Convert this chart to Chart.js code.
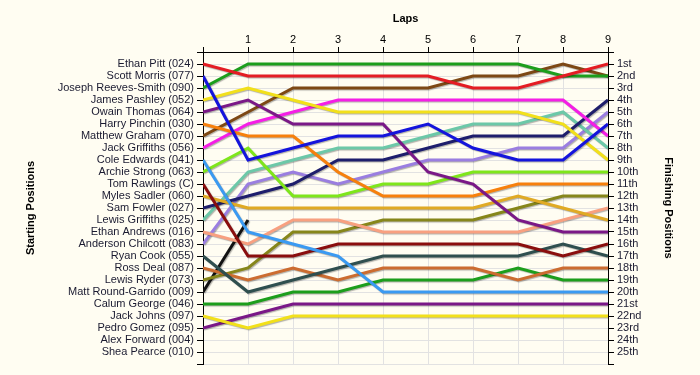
<!DOCTYPE html>
<html>
<head>
<meta charset="utf-8">
<script src="https://cdn.jsdelivr.net/npm/chart.js@4/dist/chart.umd.min.js"></script>
<style>
  html, body { margin: 0; padding: 0; background: #fffdf2; }
  #wrap { width: 700px; height: 375px; }
</style>
</head>
<body>
<div id="wrap"><canvas id="lapChart" width="700" height="375"></canvas></div>
<script>
const laps = [0, 1, 2, 3, 4, 5, 6, 7, 8, 9];

const drivers = [
  'Ethan Pitt (024)', 'Scott Morris (077)', 'Joseph Reeves-Smith (090)', 'James Pashley (052)',
  'Owain Thomas (064)', 'Harry Pinchin (030)', 'Matthew Graham (070)', 'Jack Griffiths (056)',
  'Cole Edwards (041)', 'Archie Strong (063)', 'Tom Rawlings (C)', 'Myles Sadler (060)',
  'Sam Fowler (027)', 'Lewis Griffiths (025)', 'Ethan Andrews (016)', 'Anderson Chilcott (083)',
  'Ryan Cook (055)', 'Ross Deal (087)', 'Lewis Ryder (073)', 'Matt Round-Garrido (009)',
  'Calum George (046)', 'Jack Johns (097)', 'Pedro Gomez (095)', 'Alex Forward (004)',
  'Shea Pearce (010)'
];

const finishLabels = [
  '1st', '2nd', '3rd', '4th', '5th', '6th', '7th', '8th', '9th', '10th', '11th', '12th', '13th',
  '14th', '15th', '16th', '17th', '18th', '19th', '20th', '21st', '22nd', '23rd', '24th', '25th'
];

// race position of each driver after each lap (lap 0 = grid)
const positions = [
  [1, 2, 2, 2, 2, 2, 3, 3, 2, 1],
  [2, 9, 8, 7, 7, 6, 8, 9, 9, 6],
  [3, 1, 1, 1, 1, 1, 1, 1, 2, 2],
  [4, 3, 4, 5, 5, 5, 5, 5, 6, 9],
  [5, 4, 6, 6, 6, 10, 11, 14, 15, 15],
  [6, 7, 7, 10, 12, 12, 12, 11, 11, 11],
  [7, 5, 3, 3, 3, 3, 2, 2, 1, 2],
  [8, 6, 5, 4, 4, 4, 4, 4, 4, 7],
  [9, 15, 16, 17, 20, 20, 20, 20, 20, 20],
  [10, 8, 12, 12, 11, 11, 10, 10, 10, 10],
  [11, 17, 17, 16, 16, 16, 16, 16, 17, 16],
  [12, 13, 13, 13, 13, 13, 13, 12, 13, 14],
  [13, 12, 11, 9, 9, 8, 7, 7, 7, 4],
  [14, 10, 9, 8, 8, 7, 6, 6, 5, 8],
  [15, 16, 14, 14, 15, 15, 15, 15, 14, 13],
  [16, 11, 10, 11, 10, 9, 9, 8, 8, 5],
  [17, 20, 19, 18, 17, 17, 17, 17, 16, 17],
  [18, 19, 18, 19, 18, 18, 18, 19, 18, 18],
  [19, 18, 15, 15, 14, 14, 14, 13, 12, 12],
  [20, 14],
  [21, 21, 20, 20, 19, 19, 19, 18, 19, 19],
  [22, 23, 22, 22, 22, 22, 22, 22, 22, 22],
  [23, 22, 21, 21, 21, 21, 21, 21, 21, 21],
  [],
  []
];

const lineColors = [
  '#e41c23', '#1414dc', '#1c9e1c', '#f2e01a', '#7a1887', '#f7800c', '#7d4814', '#f51ee6',
  '#3a9af2', '#7ee61a', '#8a0e0e', '#e0aa24', '#1e1e6c', '#6cc8a8', '#f8a080', '#9a7ee0',
  '#2f4f4f', '#cc6c30', '#86861a', '#111111', '#1c9e1c', '#f2e01a', '#7a1887', '#999999',
  '#999999'
];

const datasets = drivers.map((name, i) => ({
  label: name,
  data: positions[i].map((p, lap) => ({ x: laps[lap], y: p })),
  borderColor: lineColors[i],
  borderWidth: 3,
  pointRadius: 0,
  fill: false,
  tension: 0
}));

// slight drop shadow under the lines
const lineShadow = {
  id: 'lineShadow',
  beforeDatasetDraw(chart) {
    const ctx = chart.ctx;
    ctx.save();
    ctx.shadowColor = 'rgba(0,0,0,0.3)';
    ctx.shadowOffsetX = 1;
    ctx.shadowOffsetY = 1;
    ctx.shadowBlur = 1;
  },
  afterDatasetDraw(chart) {
    chart.ctx.restore();
  }
};

const tickFont = { family: 'Liberation Sans', size: 11 };
const titleFont = { family: 'Liberation Sans', size: 11, weight: 'bold' };

new Chart(document.getElementById('lapChart'), {
  type: 'line',
  data: { datasets: datasets },
  plugins: [lineShadow],
  options: {
    responsive: false,
    animation: false,
    devicePixelRatio: 1,
    layout: { padding: { top: 0, left: 0, right: 0, bottom: 11 } },
    plugins: { legend: { display: false }, tooltip: { enabled: false } },
    scales: {
      x: {
        type: 'linear',
        position: 'top',
        min: 0,
        max: 9,
        ticks: {
          stepSize: 1,
          color: '#000',
          font: tickFont,
          padding: 0,
          callback: (v) => (v === 0 ? '' : v)
        },
        grid: { color: '#e2e2e2', tickColor: '#000', tickLength: 5 },
        border: { color: '#000', width: 1 },
        title: { display: true, text: 'Laps', color: '#000', font: titleFont, padding: { top: 12, bottom: 0 } },
        afterFit: (s) => { s.height = 52; }
      },
      y: {
        type: 'linear',
        position: 'left',
        reverse: true,
        min: 0,
        max: 26,
        ticks: {
          stepSize: 1,
          autoSkip: false,
          color: '#1a1a30',
          font: tickFont,
          padding: 3,
          callback: (v) => drivers[v - 1] || ''
        },
        grid: { color: '#e2e2e2', tickColor: '#000', tickLength: 6 },
        border: { color: '#000', width: 1 },
        title: { display: true, text: 'Starting Positions', color: '#000', font: titleFont, padding: { top: 24, bottom: 0 } },
        afterFit: (s) => { s.width = 203; }
      },
      y2: {
        type: 'linear',
        position: 'right',
        reverse: true,
        min: 0,
        max: 26,
        ticks: {
          stepSize: 1,
          autoSkip: false,
          color: '#1a1a30',
          font: tickFont,
          padding: 3,
          callback: (v) => finishLabels[v - 1] || ''
        },
        grid: { drawOnChartArea: false, tickColor: '#000', tickLength: 6 },
        border: { color: '#000', width: 1 },
        title: { display: true, text: 'Finishing Positions', color: '#000', font: titleFont, padding: { top: 25, bottom: 0 } },
        afterFit: (s) => { s.width = 92; }
      }
    }
  }
});
</script>
</body>
</html>
